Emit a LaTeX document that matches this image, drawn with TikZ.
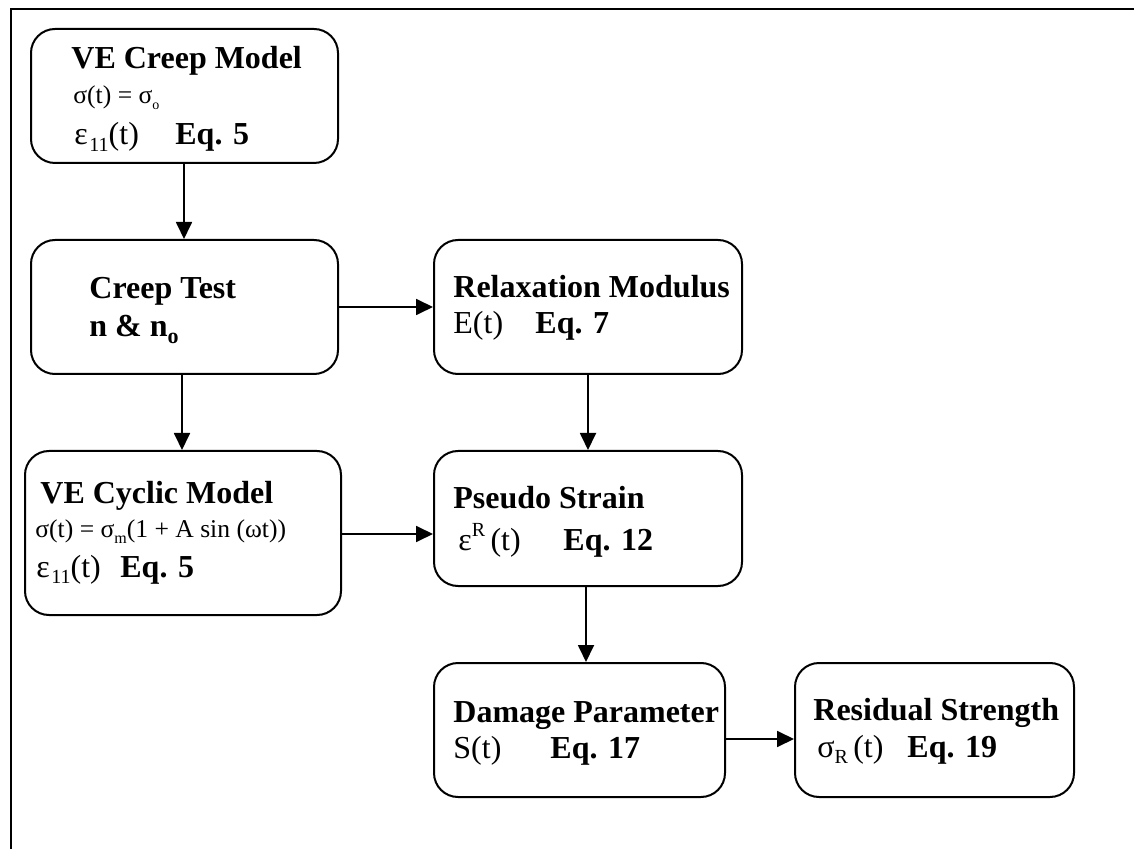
\documentclass[tikz,border=0pt]{standalone}
\usepackage{fontspec}
\setmainfont{Liberation Serif}
\usetikzlibrary{fit,arrows.meta}
\tikzset{
 box/.style={draw, line width=1pt, rounded corners=12pt, inner sep=0pt},
 arr/.style={line width=0.9pt, -{Triangle[length=8.5pt,width=8pt]}},
 ttl/.style={anchor=base west, inner sep=0pt, font=\fontsize{16}{19}\selectfont\bfseries},
 eqn/.style={anchor=base west, inner sep=0pt, font=\fontsize{16}{19}\selectfont\bfseries},
 mth/.style={anchor=base west, inner sep=0pt, font=\fontsize{16}{19}\selectfont},
 sml/.style={anchor=base west, inner sep=0pt, font=\fontsize{12.8}{15}\selectfont},
}
\newcommand\subx[2]{\raisebox{-0.45ex}{\fontsize{#1}{#1}\selectfont #2}}
\newcommand\supx[2]{\raisebox{0.9ex}{\fontsize{#1}{#1}\selectfont #2}}
\begin{document}
\begin{tikzpicture}[x=0.5pt,y=-0.5pt]
\useasboundingbox (0,0) rectangle (1134,849);
\draw[line width=1.4pt] (1134,9) -- (11,9) -- (11,849);

% boxes
\node[box, fit={(31,29)(338,163)}] (creep) {};
\node[box, fit={(31,240)(338,374)}] (test) {};
\node[box, fit={(434,240)(742,374)}] (relax) {};
\node[box, fit={(25,451)(341,615)}] (cyc) {};
\node[box, fit={(434,451)(742,586)}] (pseudo) {};
\node[box, fit={(434,663)(725,797)}] (dmg) {};
\node[box, fit={(795,663)(1074,797)}] (resid) {};

% texts
\node[ttl] (creepT) at (71,69) {VE Creep Model};
\node[sml] (creepS) at (73,104) {σ(t) = σ\subx{7}{o}};
\node[mth] (creepE) at (74,145) {ε\kern0.8pt\subx{10}{11}(t)};
\node[eqn] (creepQ) at (175,145) {Eq. 5};

\node[ttl] (testT) at (89,299) {Creep Test};
\node[ttl] (testN) at (89,337) {n \& n\subx{11}{o}};

\node[ttl] (relaxT) at (453,298) {Relaxation Modulus};
\node[mth] (relaxE) at (453,334) {E(t)};
\node[eqn] (relaxQ) at (535,334) {Eq. 7};

\node[ttl] (cycT) at (40,503) {VE Cyclic Model};
\node[sml] (cycS) at (35,538) {σ(t) = σ\subx{8}{m}(1 + A sin (ωt))};
\node[mth] (cycE) at (36,577) {ε\kern0.8pt\subx{10}{11}(t)};
\node[eqn] (cycQ) at (120,577) {Eq. 5};

\node[ttl] (pseudoT) at (453,509) {Pseudo Strain};
\node[mth] (pseudoE) at (458,550) {ε\supx{10}{R}\,(t)};
\node[eqn] (pseudoQ) at (563,550) {Eq. 12};

\node[ttl] (dmgT) at (453,722) {Damage Parameter};
\node[mth] (dmgE) at (453,758) {S(t)};
\node[eqn] (dmgQ) at (550,758) {Eq. 17};

\node[ttl] (residT) at (813,720) {Residual Strength};
\node[mth] (residE) at (817,757) {σ\subx{10}{R}\,(t)};
\node[eqn] (residQ) at (907,757) {Eq. 19};

% connectors
\coordinate (xa) at (184,0);
\coordinate (xb) at (182,0);
\coordinate (xc) at (588,0);
\coordinate (xd) at (586,0);
\coordinate (ya) at (0,307);
\coordinate (yb) at (0,534);
\coordinate (yc) at (0,739);
\draw[arr] (xa |- creep.south) -- (xa |- test.north);
\draw[arr] (test.east |- ya) -- (relax.west |- ya);
\draw[arr] (xb |- test.south) -- (xb |- cyc.north);
\draw[arr] (xc |- relax.south) -- (xc |- pseudo.north);
\draw[arr] (cyc.east |- yb) -- (pseudo.west |- yb);
\draw[arr] (xd |- pseudo.south) -- (xd |- dmg.north);
\draw[arr] (dmg.east |- yc) -- (resid.west |- yc);
\end{tikzpicture}
\end{document}
